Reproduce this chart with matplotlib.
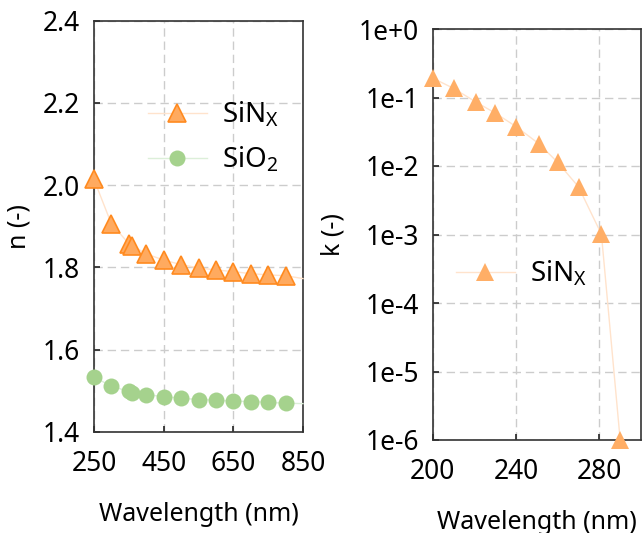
import numpy as np
import matplotlib
matplotlib.use("Agg")
import matplotlib.pyplot as plt
from matplotlib.ticker import FixedLocator, FuncFormatter

plt.rcParams['font.family'] = ['Noto Sans', 'DejaVu Sans']
plt.rcParams['mathtext.default'] = 'regular'

# Refractive index n (left panel); the last entry only extends the line
wl_n = [250, 300, 350, 360, 400, 450, 500, 550, 600, 650, 700, 750, 800, 850]
n_sinx = [2.014, 1.906, 1.858, 1.853, 1.833, 1.818, 1.807, 1.799, 1.794,
          1.790, 1.785, 1.782, 1.780, 1.773]
n_sio2 = [1.534, 1.511, 1.499, 1.495, 1.491, 1.486, 1.482, 1.479, 1.477,
          1.475, 1.474, 1.472, 1.470, 1.469]

# Extinction coefficient k of SiNx (right panel)
wl_k = [200, 210, 221, 230, 240, 251, 260, 270, 281, 290]
k_sinx = [0.192, 0.136, 0.085, 0.0593, 0.0377, 0.0211, 0.0113, 0.00496,
          0.00101, 1.0e-6]

n_xticks = [250, 450, 650, 850]
n_yticks = [1.4, 1.6, 1.8, 2.0, 2.2, 2.4]
k_xticks = [200, 240, 280]
k_yticks = [1e0, 1e-1, 1e-2, 1e-3, 1e-4, 1e-5, 1e-6]

ORANGE_FILL = '#FFAA5F'
ORANGE_EDGE = '#FF8A1F'
ORANGE_LINE = '#FFE3CC'
GREEN_FILL = '#A5D28D'
GREEN_LINE = '#DCEFD9'

W, H = 643, 533
fig = plt.figure(figsize=(W / 100, H / 100), dpi=100)


def px_axes(x0, y0, x1, y1):
    return fig.add_axes([x0 / W, 1 - y1 / H, (x1 - x0) / W, (y1 - y0) / H])


ax1 = px_axes(94, 20.7, 303, 432)
ax2 = px_axes(432.7, 29, 641, 440)


def style(ax):
    for s in ax.spines.values():
        s.set_color('#333333')
        s.set_linewidth(1.2)
    ax.grid(True, color='#cccccc', linestyle=(0, (6, 3.5)), linewidth=1.0)
    ax.set_axisbelow(True)
    ax.tick_params(direction='in', length=4, width=1.2, color='#222222',
                   labelsize=19, top=False, right=False)
    ax.tick_params(axis='x', pad=13)
    ax.tick_params(axis='y', pad=10)


# ---- left panel: n ----
style(ax1)
n_marks = list(range(len(wl_n) - 1))
ax1.plot(wl_n, n_sinx, color=ORANGE_LINE, lw=1.0, marker='^', ms=13,
         mfc=ORANGE_FILL, mec=ORANGE_EDGE, mew=1.2, markevery=n_marks,
         clip_on=False, label='SiN$_{X}$', zorder=3)
ax1.plot(wl_n, n_sio2, color=GREEN_LINE, lw=1.0, marker='o', ms=11.5,
         mfc=GREEN_FILL, mec=GREEN_FILL, mew=0, markevery=n_marks,
         clip_on=False, label='SiO$_{2}$', zorder=3)
ax1.set_xlim(250, 850)
ax1.set_ylim(1.4, 2.4)
ax1.xaxis.set_major_locator(FixedLocator(n_xticks))
ax1.yaxis.set_major_locator(FixedLocator(n_yticks))
ax1.yaxis.set_major_formatter(FuncFormatter(lambda v, p: f'{v:.1f}'))
ax1.set_xlabel('Wavelength (nm)', fontsize=18)
ax1.set_ylabel('n (-)', fontsize=18)
ax1.xaxis.set_label_coords(0.5, -0.17)
ax1.yaxis.set_label_coords(-0.30, 0.5)
leg1 = ax1.legend(loc='upper left', bbox_to_anchor=(0.258, 0.807), frameon=False,
                  fontsize=20, handlelength=2.12, handletextpad=0.53,
                  labelspacing=0.57, borderaxespad=0, borderpad=0)

# ---- right panel: k ----
style(ax2)
ax2.set_yscale('log')
ax2.plot(wl_k, k_sinx, color=ORANGE_LINE, lw=1.0, marker='^', ms=13,
         mfc='#FFAE66', mec='#FFAE66', mew=0, clip_on=False,
         label='SiN$_{X}$', zorder=3)
ax2.set_xlim(200, 300)
ax2.set_ylim(1e-6, 1e0)
ax2.xaxis.set_major_locator(FixedLocator(k_xticks))
ax2.yaxis.set_major_locator(FixedLocator(k_yticks))
ax2.yaxis.set_minor_locator(FixedLocator([]))
ax2.yaxis.set_major_formatter(
    FuncFormatter(lambda v, p: '1e+0' if v >= 1 else f'1e-{int(round(-np.log10(v)))}'))
ax2.set_xlabel('Wavelength (nm)', fontsize=18)
ax2.set_ylabel('k (-)', fontsize=18)
ax2.xaxis.set_label_coords(0.5, -0.17)
ax2.yaxis.set_label_coords(-0.42, 0.5)
leg2 = ax2.legend(loc='upper left', bbox_to_anchor=(0.112, 0.44), frameon=False,
                  fontsize=20, handlelength=2.12, handletextpad=0.53,
                  borderaxespad=0, borderpad=0)

fig.savefig('out.png', dpi=100)
